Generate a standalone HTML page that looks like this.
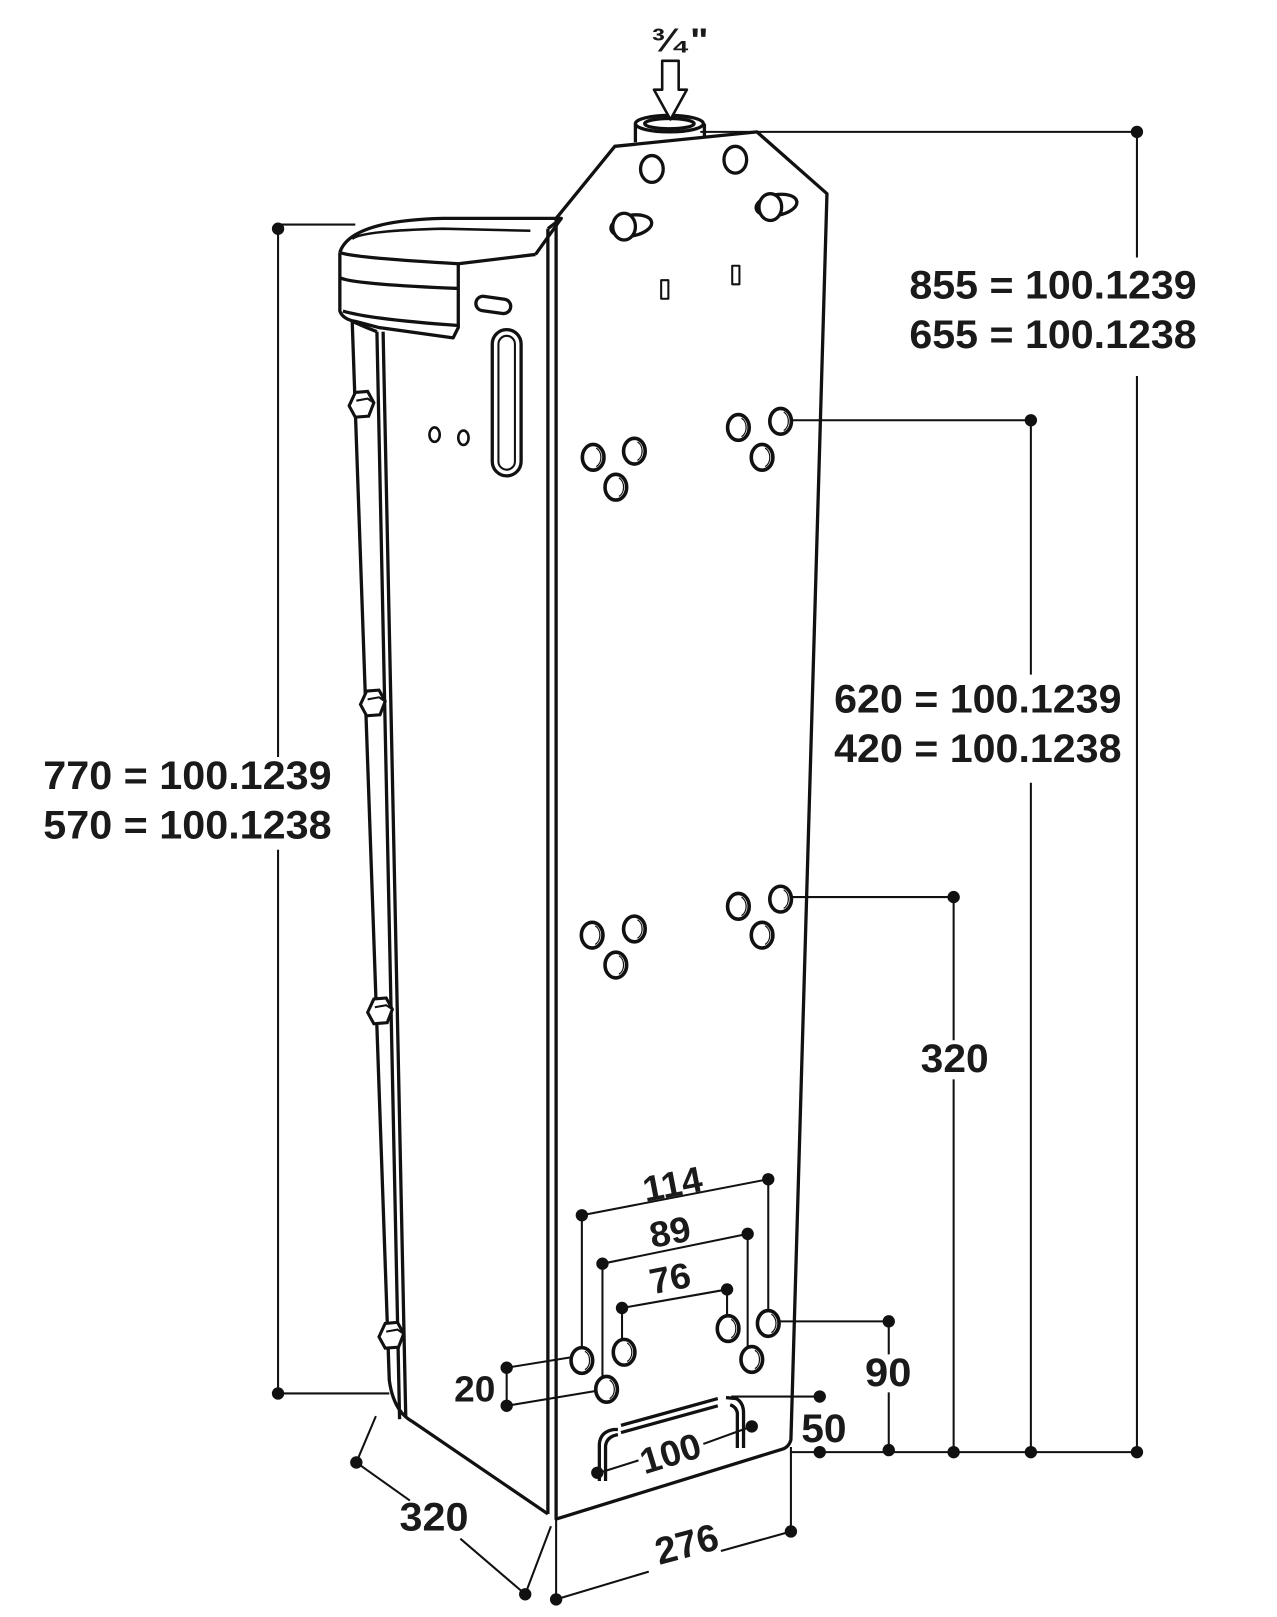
<!DOCTYPE html>
<html><head><meta charset="utf-8"><style>html,body{margin:0;padding:0;background:#fff}svg{display:block}
text{font-family:"Liberation Sans",Arial,sans-serif;font-weight:bold;fill:#1a1a1a}</style></head>
<body>
<svg width="1277" height="1617" viewBox="0 0 1240 1570" xmlns="http://www.w3.org/2000/svg">
<defs>
<g id="h"><ellipse rx="10.5" ry="12.5" fill="#fff" stroke="#111" stroke-width="3.5"/><path d="M3,-9 A8,10 0 0 1 3,9" fill="none" stroke="#111" stroke-width="1.2"/></g>
<g id="nut"><polygon points="-6,-12 6,-13 12,-2 7,11 -6,12 -12,1" fill="#fff" stroke="#111" stroke-width="3"/><polyline points="-5,-4 6,-6 12,-2 M6,-6 5,11" fill="none" stroke="#111" stroke-width="2"/></g>
</defs>
<g fill="none" stroke="#111" stroke-width="3.2" stroke-linejoin="round">
<path d="M540,1475 L540,212 L597,142 L735,128 L803,188 L768,1398 Q766,1405 760,1407 L540,1475 Z" fill="#fff"/>
<line x1="532" y1="222" x2="532" y2="1470"/>
<path d="M532,222 L545,212"/>
<path d="M342,312 L378,1340 Q382,1370 400,1380 L532,1470" />
<path d="M366,322 L388,1378"/>
<path d="M372,322 L394,1376"/>
<path d="M330,245 Q340,214 430,212 L545,212 L520,247" />
<path d="M342,232 Q350,224 430,222 L515,224" stroke-width="2.5"/>
<path d="M330,245 L330,302 Q333,310 345,312 L368,318 L440,328 L445,318 L445,256"/>
<path d="M330,245 Q340,250 445,256 L520,247"/>
<path d="M331,270 Q345,276 445,280"/>
<path d="M333,302 Q360,310 445,316"/>
<path d="M342,312 L356,318 L366,322"/>
<path d="M617,120 L617,138 M684,120 L684,132"/>
<ellipse cx="650" cy="120" rx="33" ry="8" fill="#fff"/>
<ellipse cx="650" cy="120" rx="24" ry="5"/>
<path d="M643,59 L659,59 L659,87 L667,87 L651,116 L635,87 L643,87 Z" stroke-width="2.5" fill="#fff"/>
<ellipse cx="633" cy="164" rx="11" ry="13"/>
<ellipse cx="714" cy="155" rx="11" ry="13"/>
<ellipse cx="613" cy="219" rx="20" ry="10" transform="rotate(-10 613 219)"/>
<ellipse cx="606" cy="220" rx="11" ry="13" fill="#fff"/>
<ellipse cx="754" cy="199" rx="20" ry="10" transform="rotate(-10 754 199)"/>
<ellipse cx="748" cy="201" rx="11" ry="13" fill="#fff"/>
<rect x="642" y="272" width="7" height="18" stroke-width="2"/>
<rect x="711" y="258" width="7" height="18" stroke-width="2"/>
<rect x="462" y="289" width="34" height="14" rx="7" transform="rotate(8 479 296)"/>
<rect x="478" y="320" width="28" height="142" rx="14"/>
<rect x="484" y="326" width="16" height="130" rx="8" stroke-width="2"/>
<ellipse cx="422" cy="422" rx="5" ry="7" stroke-width="2.5"/>
<ellipse cx="450" cy="425" rx="5" ry="7" stroke-width="2.5"/>
<path d="M582,1438 L582,1402 Q583,1390 596,1388 L600,1388 M603,1384 L697,1358 M697,1365 L603,1391 M705,1357 L715,1358 Q722,1362 722,1372 L722,1406 M716,1406 L716,1372 Q715,1366 709,1364 M588,1438 L588,1404 Q589,1395 600,1393"/>
<g stroke-width="2">
<path d="M680,128 L1104,128 M1104,128 L1104,250 M1104,365 L1104,1410"/>
<path d="M768,408 L1001,408 L1001,655 M1001,760 L1001,1410"/>
<path d="M768,871 L926,871 L926,1010 M926,1048 L926,1410"/>
<path d="M768,1410 L1104,1410"/>
<path d="M755,1283 L863,1283 L863,1315 M863,1352 L863,1408"/>
<path d="M710,1356 L796,1356"/>
<path d="M345,218 L270,218 L270,735 M270,825 L270,1353 L378,1353"/>
<path d="M365,1375 L346,1420 L398,1457 M447,1494 L510,1548 L535,1482"/>
<path d="M540,1475 L540,1553 L630,1526 M700,1506 L768,1487 L768,1405"/>
<path d="M565,1180 L746,1145 M565,1180 L565,1310 M746,1145 L746,1275"/>
<path d="M585,1227 L726,1198 M585,1227 L585,1338 M726,1198 L726,1310"/>
<path d="M604,1270 L706,1252 M604,1270 L604,1302 M706,1252 L706,1280"/>
<path d="M492,1328 L560,1317 M492,1365 L582,1350 M492,1328 L492,1365"/>
<path d="M582,1430 L620,1418 M683,1402 L730,1385"/>
</g>
</g>
<use href="#h" x="576" y="444"/><use href="#h" x="616" y="438"/><use href="#h" x="598" y="473"/>
<use href="#h" x="717" y="415"/><use href="#h" x="758" y="409"/><use href="#h" x="740" y="444"/>
<use href="#h" x="575" y="908"/><use href="#h" x="616" y="902"/><use href="#h" x="598" y="937"/>
<use href="#h" x="717" y="880"/><use href="#h" x="758" y="873"/><use href="#h" x="740" y="908"/>
<use href="#h" x="565" y="1321"/><use href="#h" x="589" y="1349"/><use href="#h" x="606" y="1313"/>
<use href="#h" x="707" y="1290"/><use href="#h" x="730" y="1320"/><use href="#h" x="746" y="1285"/>
<use href="#nut" x="351" y="393"/><use href="#nut" x="362" y="683"/><use href="#nut" x="369" y="982"/><use href="#nut" x="380" y="1297"/>
<g fill="#111">
<circle cx="1104" cy="128" r="6"/><circle cx="1001" cy="408" r="6"/><circle cx="926" cy="871" r="6"/>
<circle cx="1104" cy="1410" r="6"/><circle cx="1001" cy="1410" r="6"/><circle cx="926" cy="1410" r="6"/><circle cx="863" cy="1408" r="6"/><circle cx="796" cy="1410" r="6"/>
<circle cx="863" cy="1283" r="6"/><circle cx="796" cy="1356" r="6"/>
<circle cx="270" cy="222" r="6"/><circle cx="270" cy="1353" r="6"/>
<circle cx="346" cy="1420" r="6"/><circle cx="510" cy="1548" r="6"/>
<circle cx="540" cy="1553" r="6"/><circle cx="768" cy="1487" r="6"/>
<circle cx="565" cy="1180" r="6"/><circle cx="746" cy="1145" r="6"/>
<circle cx="585" cy="1227" r="6"/><circle cx="726" cy="1198" r="6"/>
<circle cx="604" cy="1270" r="6"/><circle cx="706" cy="1252" r="6"/>
<circle cx="492" cy="1328" r="6"/><circle cx="492" cy="1365" r="6"/>
<circle cx="580" cy="1430" r="6"/><circle cx="730" cy="1385" r="6"/>
</g>
<text x="633" y="50" font-size="32" textLength="55" lengthAdjust="spacingAndGlyphs">³⁄₄"</text>
<text x="883" y="290" font-size="39" textLength="279" lengthAdjust="spacingAndGlyphs">855 = 100.1239</text>
<text x="883" y="338" font-size="39" textLength="279" lengthAdjust="spacingAndGlyphs">655 = 100.1238</text>
<text x="810" y="692" font-size="39" textLength="279" lengthAdjust="spacingAndGlyphs">620 = 100.1239</text>
<text x="810" y="740" font-size="39" textLength="279" lengthAdjust="spacingAndGlyphs">420 = 100.1238</text>
<text x="42" y="766" font-size="39" textLength="280" lengthAdjust="spacingAndGlyphs">770 = 100.1239</text>
<text x="42" y="814" font-size="39" textLength="280" lengthAdjust="spacingAndGlyphs">570 = 100.1238</text>
<text x="894" y="1041" font-size="39" textLength="66" lengthAdjust="spacingAndGlyphs">320</text>
<text x="840" y="1346" font-size="39" textLength="45" lengthAdjust="spacingAndGlyphs">90</text>
<text x="778" y="1400" font-size="39" textLength="44" lengthAdjust="spacingAndGlyphs">50</text>
<text x="441" y="1361" font-size="35" textLength="40" lengthAdjust="spacingAndGlyphs">20</text>
<text x="388" y="1486" font-size="39" textLength="67" lengthAdjust="spacingAndGlyphs">320</text>
<text x="624" y="1162" font-size="35" textLength="58" lengthAdjust="spacingAndGlyphs" transform="rotate(-11 652 1150)">114</text>
<text x="631" y="1208" font-size="35" textLength="40" lengthAdjust="spacingAndGlyphs" transform="rotate(-11 652 1198)">89</text>
<text x="631" y="1253" font-size="35" textLength="40" lengthAdjust="spacingAndGlyphs" transform="rotate(-11 652 1243)">76</text>
<text x="621" y="1423" font-size="35" textLength="60" lengthAdjust="spacingAndGlyphs" transform="rotate(-17 652 1411)">100</text>
<text x="636" y="1512" font-size="37" textLength="62" lengthAdjust="spacingAndGlyphs" transform="rotate(-15 667 1500)">276</text>
</svg>
</body></html>
